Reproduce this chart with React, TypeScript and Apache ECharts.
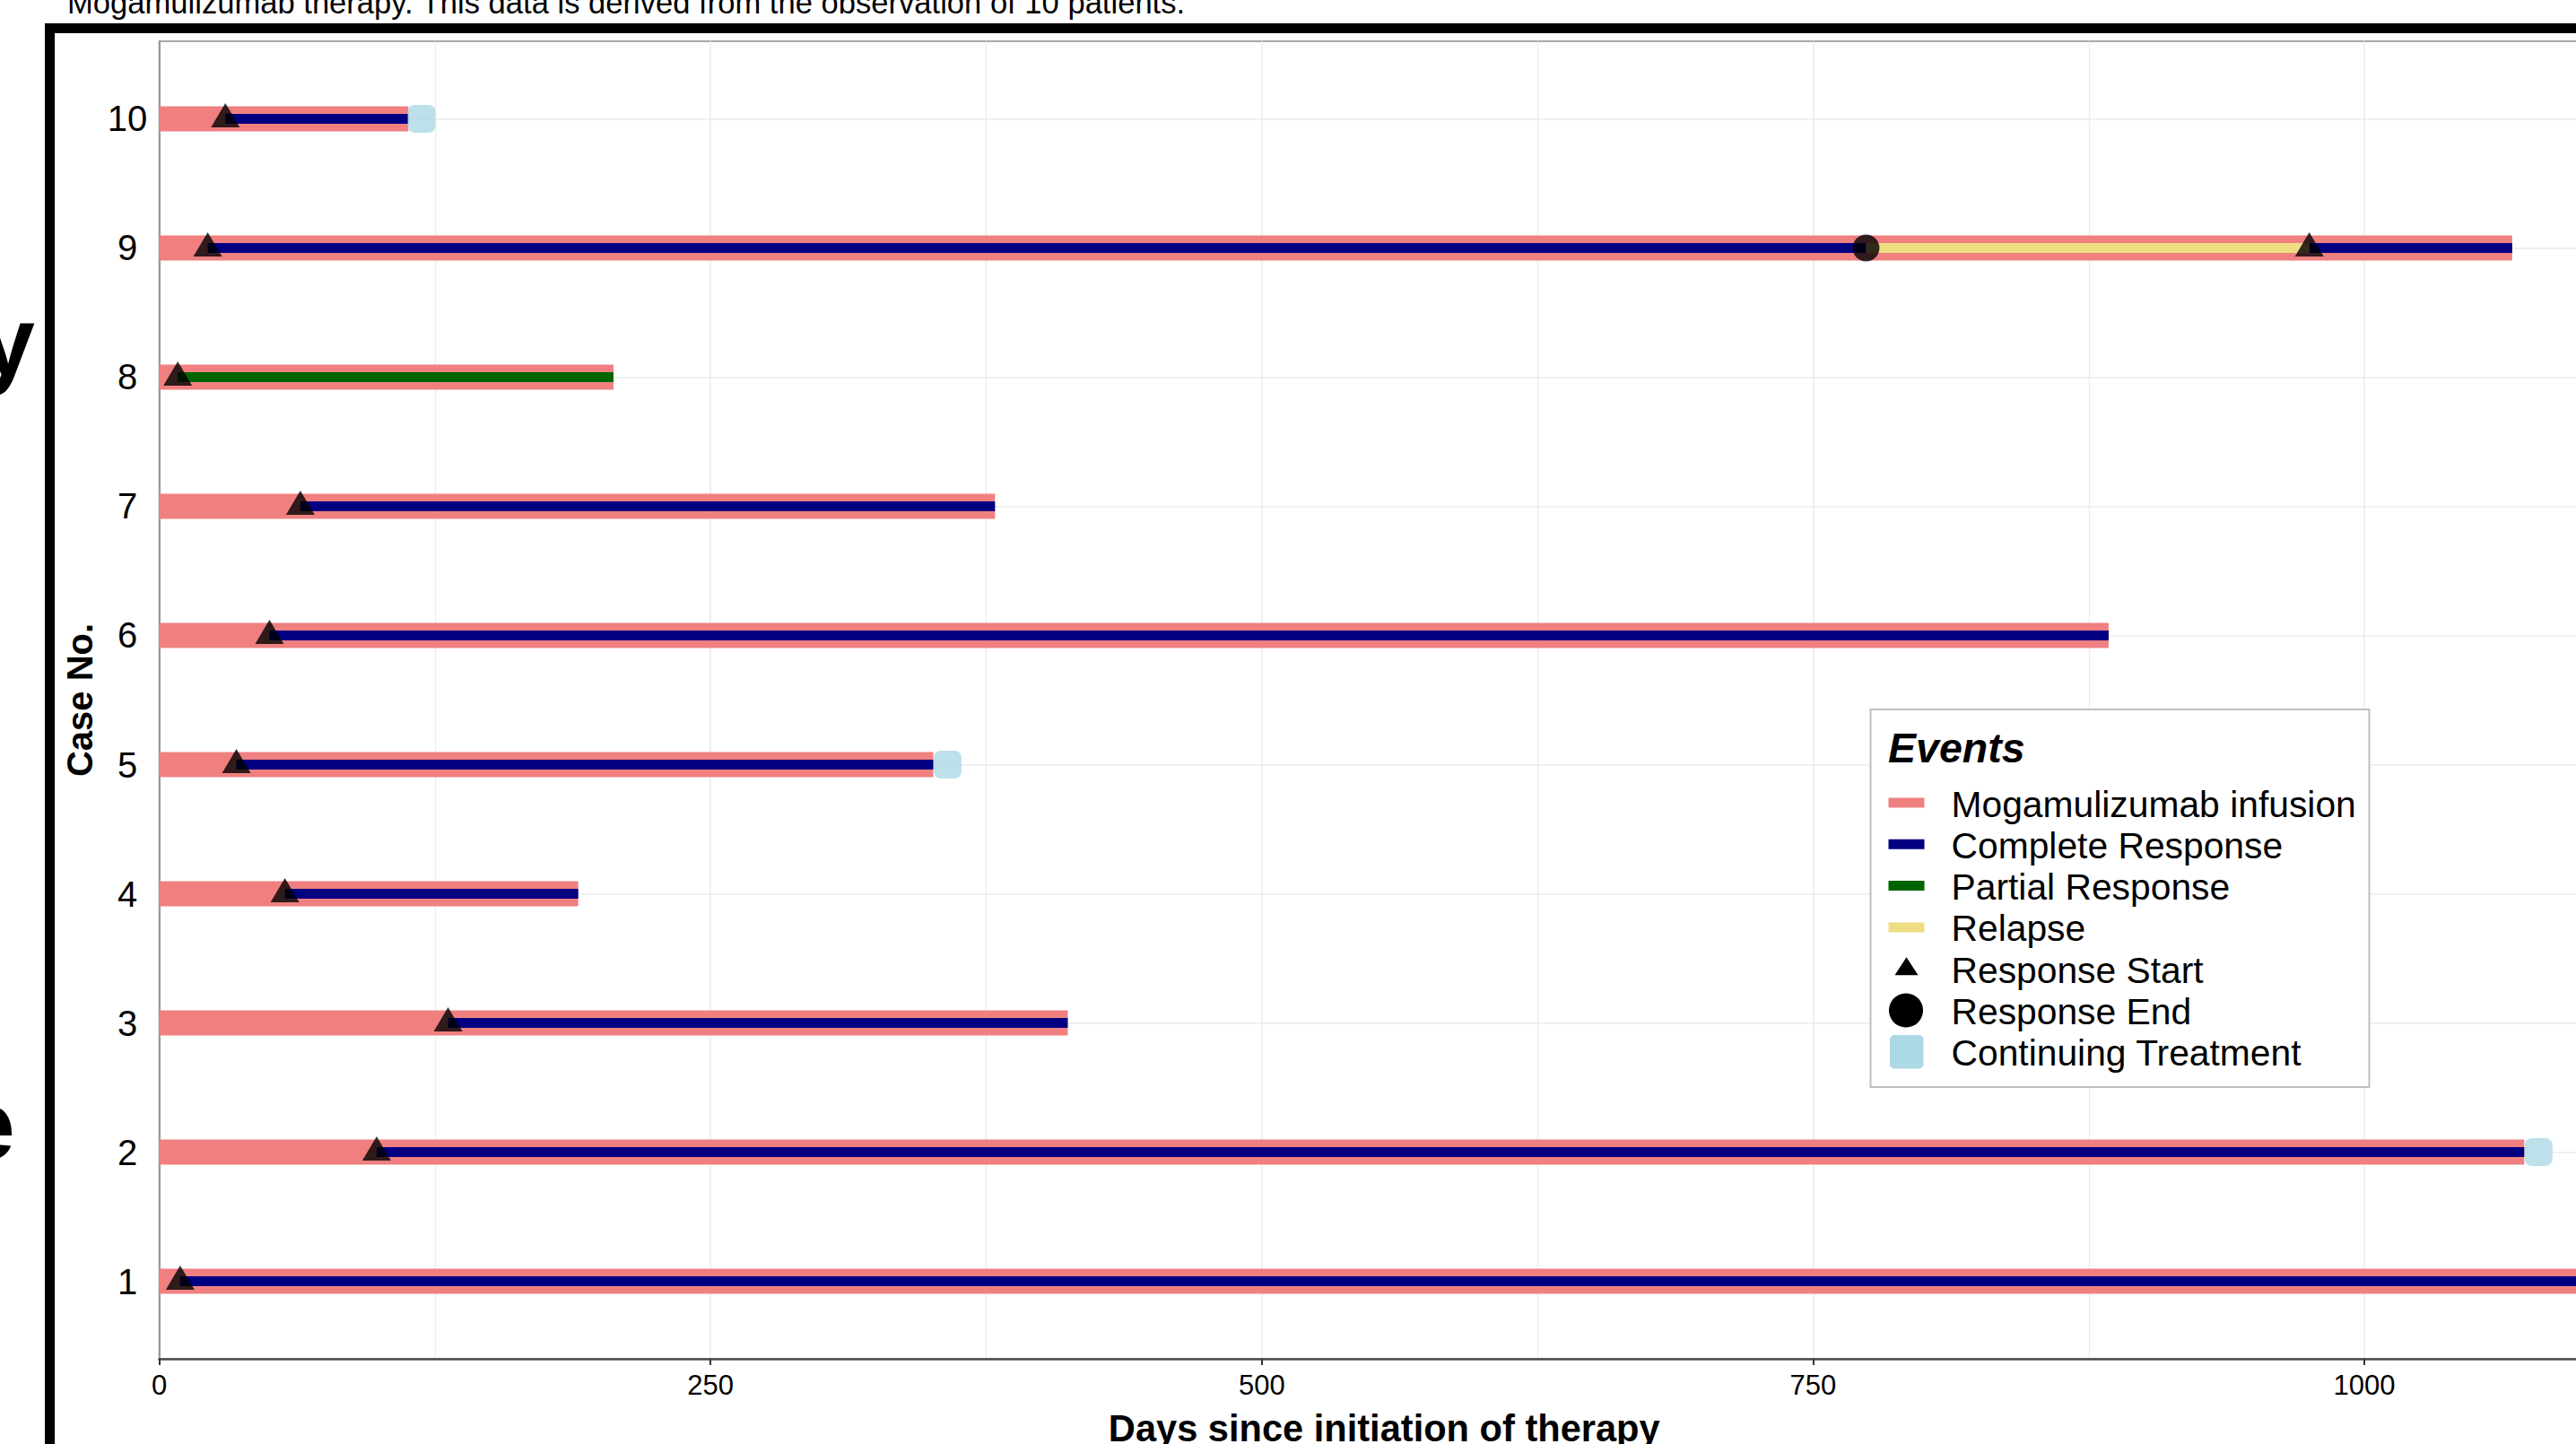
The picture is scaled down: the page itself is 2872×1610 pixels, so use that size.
import React, { useEffect, useRef } from "react";
import * as echarts from "echarts";

// ---------- data ----------
const caseNumbers = [1, 2, 3, 4, 5, 6, 7, 8, 9, 10];
const infusionEndDays = [1111, 1072.5, 412, 190, 351, 884, 379, 206, 1067, 113];

// [case, startDay, endDay]
const completeResponseSegments = [
  [1, 9.5, 1111],
  [2, 98.6, 1072.5],
  [3, 131, 412],
  [4, 57, 190],
  [5, 35, 351],
  [6, 50, 884],
  [7, 64, 379],
  [9, 22, 774],
  [9, 975, 1067],
  [10, 30, 113],
];
const partialResponseSegments = [[8, 8.4, 206]];
const relapseSegments = [[9, 774, 975]];

// [day, case]
const responseStartPoints = [
  [9.5, 1], [98.6, 2], [131, 3], [57, 4], [35, 5], [50, 6], [64, 7], [8.4, 8], [22, 9], [975, 9], [30, 10],
];
const responseEndPoints = [[774, 9]];
const continuingTreatmentPoints = [[1079, 2], [357.5, 5], [119, 10]];

const xTickValues = [0, 250, 500, 750, 1000];

const legendLabels = [
  "Mogamulizumab infusion",
  "Complete Response",
  "Partial Response",
  "Relapse",
  "Response Start",
  "Response End",
  "Continuing Treatment",
];

const COLORS = {
  infusion: "#F08080",
  complete: "#000080",
  partial: "#006400",
  relapse: "#EEDD82",
  marker: "#000000",
  continuing: "#ADD8E6",
};

const FONT = "Liberation Sans";

function segmentSeries(name: string, data: number[][], color: string, thickness: number, z: number) {
  return {
    type: "custom",
    name,
    data,
    z,
    clip: true,
    encode: { x: [1, 2], y: 0 },
    renderItem: (params: any, api: any) => {
      const c = api.value(0);
      const s = api.value(1);
      const e = api.value(2);
      const p0 = api.coord([s, c]);
      const p1 = api.coord([e, c]);
      return {
        type: "rect",
        shape: { x: p0[0], y: p0[1] - thickness / 2, width: p1[0] - p0[0], height: thickness },
        style: { fill: color },
      };
    },
  };
}

function buildLegendGraphics() {
  const els: any[] = [];
  const boxX = 2085.5;
  const boxY = 791;
  els.push({
    type: "rect",
    z: 100,
    shape: { x: boxX, y: boxY, width: 556, height: 421 },
    style: { fill: "#ffffff", stroke: "#bebebe", lineWidth: 2 },
  });
  els.push({
    type: "text",
    z: 101,
    style: {
      x: 2105,
      y: 834,
      text: "Events",
      fontFamily: FONT,
      fontSize: 46.5,
      fontWeight: "bold",
      fontStyle: "italic",
      fill: "#000",
      align: "left",
      verticalAlign: "middle",
    },
  });
  const keyCx = 2125.5;
  const lineColors = [COLORS.infusion, COLORS.complete, COLORS.partial, COLORS.relapse];
  legendLabels.forEach((label, i) => {
    const yc = 895 + i * 46.3;
    if (i < 4) {
      els.push({
        type: "rect",
        z: 101,
        shape: { x: keyCx - 20, y: yc - 5.5, width: 40, height: 11 },
        style: { fill: lineColors[i] },
      });
    } else if (i === 4) {
      els.push({
        type: "polygon",
        z: 101,
        shape: { points: [[keyCx, yc - 13], [keyCx - 13, yc + 7], [keyCx + 13, yc + 7]] },
        style: { fill: COLORS.marker },
      });
    } else if (i === 5) {
      els.push({
        type: "circle",
        z: 101,
        shape: { cx: keyCx - 0.5, cy: yc, r: 19 },
        style: { fill: COLORS.marker },
      });
    } else {
      els.push({
        type: "rect",
        z: 101,
        shape: { x: keyCx - 18.5, y: yc - 18.75, width: 37.5, height: 37.5, r: 5 },
        style: { fill: COLORS.continuing },
      });
    }
    els.push({
      type: "text",
      z: 101,
      style: {
        x: 2175.5,
        y: yc + 1.5,
        text: label,
        fontFamily: FONT,
        fontSize: 40.8,
        fill: "#000",
        align: "left",
        verticalAlign: "middle",
      },
    });
  });
  return els;
}

export default function App() {
  const ref = useRef<HTMLDivElement>(null);

  useEffect(() => {
    document.body.style.margin = "0";
    document.body.style.overflow = "hidden";
    if (!ref.current) return;
    const chart = echarts.init(ref.current, undefined, { renderer: "svg" });

    const option: any = {
      animation: false,
      backgroundColor: "#ffffff",
      textStyle: { fontFamily: FONT },
      grid: {
        left: 177.5,
        top: 46,
        width: 2731.5,
        height: 1469,
        containLabel: false,
        outerBoundsMode: "none",
        show: true,
        borderColor: "#8a8a8a",
        borderWidth: 1.5,
        backgroundColor: "transparent",
      },
      xAxis: {
        type: "value",
        min: 0,
        max: 1111,
        interval: 250,
        name: "Days since initiation of therapy",
        nameLocation: "middle",
        nameGap: 56,
        nameTextStyle: { fontSize: 41.6, fontWeight: "bold", color: "#000", fontFamily: FONT },
        axisLine: { show: true, lineStyle: { color: "#4d4d4d", width: 2.5 } },
        axisTick: { show: true, length: 7, lineStyle: { color: "#333", width: 2 } },
        axisLabel: {
          fontSize: 31,
          color: "#000",
          margin: 14,
          formatter: (v: number) => (xTickValues.indexOf(v) >= 0 ? String(v) : ""),
        },
        splitLine: { show: true, lineStyle: { color: "#ebebeb", width: 1.5 } },
        minorTick: { show: false, splitNumber: 2 },
        minorSplitLine: { show: true, lineStyle: { color: "#ebebeb", width: 1.2 } },
      },
      yAxis: {
        type: "value",
        min: 0.4,
        max: 10.6,
        name: "Case No.",
        nameLocation: "middle",
        nameGap: 63,
        nameTextStyle: { fontSize: 40, fontWeight: "bold", color: "#000", fontFamily: FONT },
        axisLine: { show: true, lineStyle: { color: "#808080", width: 1.5 } },
        axisTick: { show: false, customValues: caseNumbers },
        axisLabel: {
          customValues: caseNumbers,
          fontSize: 40,
          color: "#000",
          align: "center",
          margin: 35.5,
        },
        splitLine: { show: true, lineStyle: { color: "#ebebeb", width: 1.5 } },
      },
      graphic: [
        {
          type: "text",
          style: {
            x: 75,
            y: 3,
            text: "Mogamulizumab therapy. This data is derived from the observation of 10 patients.",
            fontFamily: FONT,
            fontSize: 34.6,
            fill: "#000",
            align: "left",
            verticalAlign: "middle",
          },
        },
        {
          type: "text",
          style: {
            x: 39,
            y: 379,
            text: "y",
            fontFamily: FONT,
            fontSize: 110,
            fontWeight: "bold",
            fill: "#000",
            align: "right",
            verticalAlign: "middle",
          },
        },
        {
          type: "text",
          style: {
            x: 17,
            y: 1253,
            text: "e",
            fontFamily: FONT,
            fontSize: 110,
            fontWeight: "bold",
            fill: "#000",
            align: "right",
            verticalAlign: "middle",
          },
        },
        { type: "rect", shape: { x: 50, y: 26, width: 2950, height: 11 }, style: { fill: "#000" } },
        { type: "rect", shape: { x: 50, y: 26, width: 11, height: 1700 }, style: { fill: "#000" } },
        ...buildLegendGraphics(),
      ],
      series: [
        segmentSeries(
          "Mogamulizumab infusion",
          caseNumbers.map((c, i) => [c, 0, infusionEndDays[i]]),
          COLORS.infusion,
          28,
          2
        ),
        segmentSeries("Complete Response", completeResponseSegments, COLORS.complete, 11, 3),
        segmentSeries("Partial Response", partialResponseSegments, COLORS.partial, 11, 3),
        segmentSeries("Relapse", relapseSegments, COLORS.relapse, 11, 3),
        {
          type: "scatter",
          name: "Continuing Treatment",
          data: continuingTreatmentPoints,
          symbol: "roundRect",
          symbolSize: 31,
          itemStyle: { color: COLORS.continuing },
          z: 4,
        },
        {
          type: "scatter",
          name: "Response Start",
          data: responseStartPoints,
          symbol: "triangle",
          symbolSize: [32, 27],
          symbolOffset: [0, -4],
          itemStyle: { color: COLORS.marker },
          z: 5,
        },
        {
          type: "scatter",
          name: "Response End",
          data: responseEndPoints,
          symbol: "circle",
          symbolSize: 30,
          itemStyle: { color: COLORS.marker },
          z: 5,
        },
      ],
    };

    chart.setOption(option);
    return () => chart.dispose();
  }, []);

  return (
    <div style={{ width: 2872, height: 1610, overflow: "hidden", position: "relative", background: "#fff" }}>
      <div ref={ref} style={{ width: 2960, height: 1610 }} />
    </div>
  );
}
